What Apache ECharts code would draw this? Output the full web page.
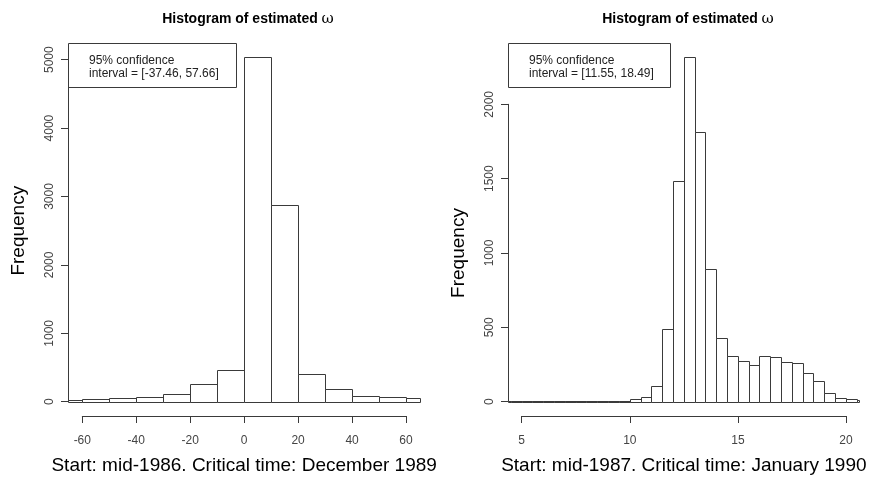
<!DOCTYPE html>
<html>
<head>
<meta charset="utf-8">
<script src="https://cdn.jsdelivr.net/npm/echarts@6/dist/echarts.min.js"></script>
<style>html,body{margin:0;padding:0;background:#fff}#c{width:871px;height:481px}</style>
</head>
<body>
<div id="c"></div>
<script>
// ---- data ----
var chartTitle = "Histogram of estimated ";
var omega = "ω";
var yName = "Frequency";

// left histogram: bins of width 10 starting at -70
var leftBinStarts = [-70, -60, -50, -40, -30, -20, -10, 0, 10, 20, 30, 40, 50, 60];
var leftBinWidth = 10;
var leftCounts = [20, 35, 50, 73, 117, 254, 468, 5040, 2880, 409, 186, 83, 64, 50];
var leftXRange = [-65, 65];
var leftXTicks = [-60, 60, 20];   // min, max, step
var leftYTicks = [0, 5000, 1000];
var leftXTitle = "Start: mid-1986. Critical time: December 1989";
var leftNote = ["95% confidence", "interval = [-37.46, 57.66]"];

// right histogram: bins of width 0.5 starting at 4.0
var rightBinStarts = [4.0, 4.5, 5.0, 5.5, 6.0, 6.5, 7.0, 7.5, 8.0, 8.5, 9.0, 9.5, 10.0, 10.5, 11.0, 11.5, 12.0, 12.5,
  13.0, 13.5, 14.0, 14.5, 15.0, 15.5, 16.0, 16.5, 17.0, 17.5, 18.0, 18.5, 19.0, 19.5, 20.0, 20.5];
var rightBinWidth = 0.5;
var rightCounts = [4, 4, 4, 4, 4, 4, 0, 0, 3, 3, 3, 7, 16, 34, 108, 491, 1484, 2316,
  1816, 894, 428, 304, 275, 248, 304, 300, 266, 259, 196, 140, 59, 23, 18, 12];
var rightXRange = [4.37, 20.62];
var rightXTicks = [5, 20, 5];
var rightYTicks = [0, 2000, 500];
var rightXTitle = "Start: mid-1987. Critical time: January 1990";
var rightNote = ["95% confidence", "interval = [11.55, 18.49]"];

// ---- chart ----
var FONT = '"Liberation Sans", Arial, Helvetica, sans-serif';
var LINE = '#3a3a3a';
var LABEL = '#444';

function pairs(starts, counts) {
  return starts.map(function (s, i) { return [s, counts[i]]; });
}
function crisp(v) { return Math.round(v) + 0.5; }
function makeRender(binW, range) {
  return function (params, api) {
    var s = api.value(0), v = api.value(1);
    var x0 = Math.max(s, range[0]), x1 = Math.min(s + binW, range[1]);
    if (x1 <= x0) return null;
    var p0 = api.coord([x0, 0]), p1 = api.coord([x1, v]);
    var xa = crisp(p0[0]), xb = crisp(p1[0]), yb = crisp(p0[1]), yt = crisp(p1[1]);
    return {
      type: 'rect',
      shape: { x: xa, y: yt, width: xb - xa, height: yb - yt },
      style: { fill: '#fff', stroke: LINE, lineWidth: 1 }
    };
  };
}

function barXAxis(grid, range) {
  return {
    gridIndex: grid, type: 'value', min: range[0], max: range[1],
    axisLine: { show: true, onZero: false, lineStyle: { color: LINE, width: 1 } },
    axisTick: { show: false }, axisLabel: { show: false }, splitLine: { show: false }
  };
}
function tickXAxis(grid, t, title) {
  return {
    gridIndex: grid, type: 'value', min: t[0], max: t[1], interval: t[2],
    position: 'bottom',
    axisLine: { show: true, onZero: false, lineStyle: { color: LINE, width: 1 } },
    axisTick: { show: true, length: 7, lineStyle: { color: LINE } },
    axisLabel: { show: true, margin: 19, fontSize: 12, color: LABEL, fontFamily: FONT,
      formatter: function (v) { return String(v); } },
    splitLine: { show: false },
    name: title, nameLocation: 'middle', nameGap: 40,
    nameTextStyle: { fontSize: 19, color: '#000', fontFamily: FONT }
  };
}
function barYAxis(grid, t) {
  return {
    gridIndex: grid, type: 'value', min: t[0], max: t[1], interval: t[2],
    axisLine: { show: true, onZero: false, lineStyle: { color: LINE, width: 1 } },
    axisTick: { show: true, length: 7, lineStyle: { color: LINE } },
    axisLabel: { show: true, rotate: 90, margin: 12, fontSize: 12, color: LABEL, fontFamily: FONT,
      formatter: function (v) { return String(v); } },
    splitLine: { show: false },
    name: yName, nameLocation: 'middle', nameGap: 40,
    nameTextStyle: { fontSize: 19, color: '#000', fontFamily: FONT }
  };
}
function hiddenY(grid) {
  return { gridIndex: grid, type: 'value', min: 0, max: 1, show: false };
}
function noteBox(x, w, lines) {
  return {
    type: 'group', left: x, top: 43,
    children: [
      { type: 'rect', shape: { x: 0.5, y: 0.5, width: w, height: 44 },
        style: { fill: '#fff', stroke: LINE, lineWidth: 1 } },
      { type: 'text', x: 21, y: 18, style: { text: lines[0], fontSize: 12, fontFamily: FONT, fill: '#222', verticalAlign: 'middle' } },
      { type: 'text', x: 21, y: 31, style: { text: lines[1], fontSize: 12, fontFamily: FONT, fill: '#222', verticalAlign: 'middle' } }
    ]
  };
}
function titleOf(cx) {
  return {
    text: chartTitle + '{w|' + omega + '}', left: cx, top: 7, textAlign: 'center',
    textStyle: { fontSize: 14, fontWeight: 'bold', color: '#000', fontFamily: FONT,
      rich: { w: { fontSize: 15, fontWeight: 'normal', fontFamily: '"DejaVu Serif", serif', color: '#000' } } }
  };
}

var chart = echarts.init(document.getElementById('c'), null, { renderer: 'canvas' });
chart.setOption({
  animation: false,
  backgroundColor: '#fff',
  title: [titleOf(243), titleOf(683)],
  grid: [
    { left: 68, width: 352, top: 59.7, bottom: 79.3 },
    { left: 82.3, width: 323.7, top: 300, bottom: 65 },
    { left: 508, width: 351.3, top: 104.3, bottom: 79.3 },
    { left: 521.7, width: 324.3, top: 300, bottom: 65 }
  ],
  xAxis: [
    barXAxis(0, leftXRange),
    tickXAxis(1, leftXTicks, leftXTitle),
    barXAxis(2, rightXRange),
    tickXAxis(3, rightXTicks, rightXTitle)
  ],
  yAxis: [
    barYAxis(0, leftYTicks),
    hiddenY(1),
    barYAxis(2, rightYTicks),
    hiddenY(3)
  ],
  series: [
    { type: 'custom', xAxisIndex: 0, yAxisIndex: 0, clip: false,
      renderItem: makeRender(leftBinWidth, leftXRange), data: pairs(leftBinStarts, leftCounts) },
    { type: 'custom', xAxisIndex: 2, yAxisIndex: 2, clip: false,
      renderItem: makeRender(rightBinWidth, rightXRange), data: pairs(rightBinStarts, rightCounts) }
  ],
  graphic: [noteBox(68, 168, leftNote), noteBox(508, 162, rightNote)]
});
</script>
</body>
</html>
